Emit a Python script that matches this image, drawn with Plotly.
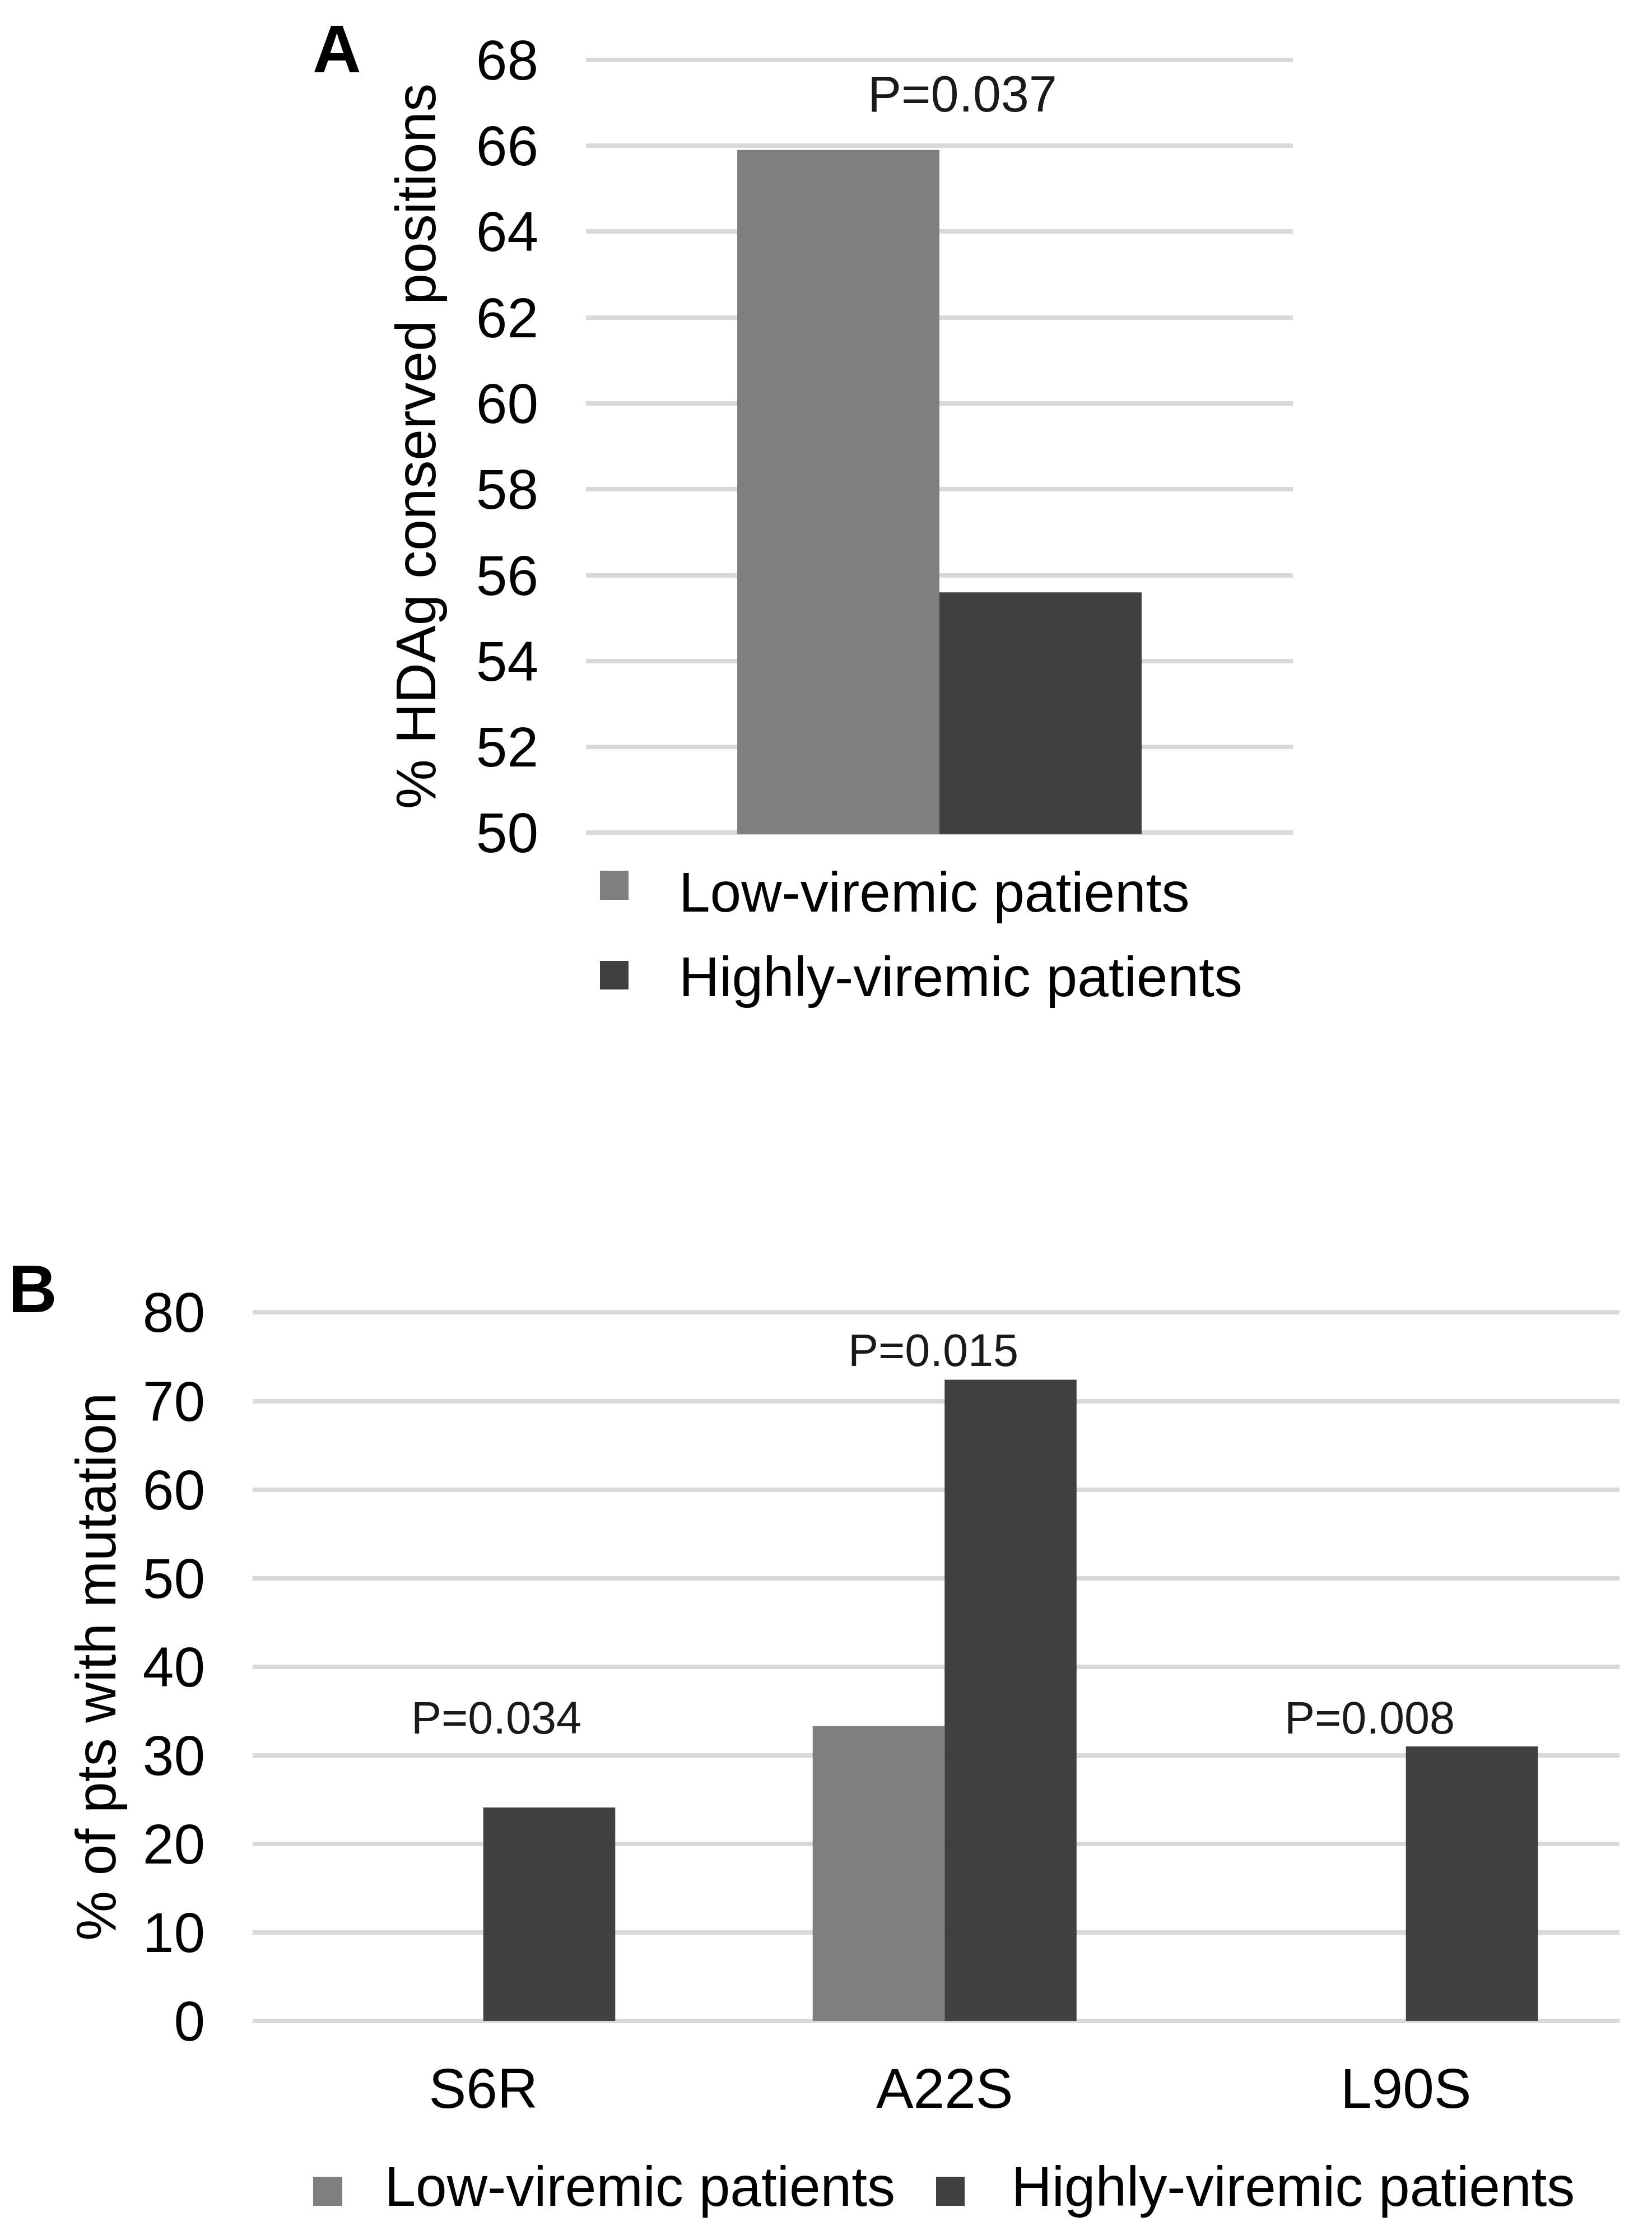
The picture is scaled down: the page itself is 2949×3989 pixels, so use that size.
import plotly.graph_objects as go

# ---------------- data ----------------
series_names = ["Low-viremic patients", "Highly-viremic patients"]
series_colors = ["#7f7f7f", "#404040"]

# Panel A: % HDAg conserved positions
a_category = ["HDAg"]
a_low = [65.9]
a_high = [55.6]
a_pvalue = ["P=0.037"]
a_yticks = [50, 52, 54, 56, 58, 60, 62, 64, 66, 68]

# Panel B: % of patients with mutation
b_mutations = ["S6R", "A22S", "L90S"]
b_low = [0, 33.3, 0]
b_high = [24.1, 72.4, 31.0]
b_pvalues = ["P=0.034", "P=0.015", "P=0.008"]
b_yticks = [0, 10, 20, 30, 40, 50, 60, 70, 80]

# ---------------- layout helpers ----------------
W, H = 2949, 3989
OFF = 8  # page body margin compensation
FONT = "Arial, 'Liberation Sans', sans-serif"


def fx(p):
    return (p - OFF) / W


def fy(p):
    return 1 - (p - OFF) / H


fig = go.Figure()

# Panel A bars
fig.add_trace(go.Bar(x=a_category, y=a_low, name=series_names[0],
                     marker=dict(color=series_colors[0], line=dict(width=0)),
                     xaxis="x", yaxis="y", legend="legend", legendgroup="a0"))
fig.add_trace(go.Bar(x=a_category, y=a_high, name=series_names[1],
                     marker=dict(color=series_colors[1], line=dict(width=0)),
                     xaxis="x", yaxis="y", legend="legend", legendgroup="a1"))

# Panel B bars
fig.add_trace(go.Bar(x=b_mutations, y=b_low, name=series_names[0],
                     marker=dict(color=series_colors[0], line=dict(width=0)),
                     xaxis="x2", yaxis="y2", legend="legend2", legendgroup="b0"))
fig.add_trace(go.Bar(x=b_mutations, y=b_high, name=series_names[1],
                     marker=dict(color=series_colors[1], line=dict(width=0)),
                     xaxis="x2", yaxis="y2", legend="legend2", legendgroup="b1"))

grid = dict(showgrid=True, gridcolor="#d9d9d9", gridwidth=7.5,
            zeroline=False, showline=False, ticks="")
tickfont = dict(family=FONT, size=100, color="#000000")
titlefont = dict(family=FONT, size=100, color="#000000")

annotations = []
# P-value labels
annotations.append(dict(x=0.0325, y=67.2, xref="x", yref="y", text=a_pvalue[0],
                        showarrow=False, font=dict(family=FONT, size=90, color="#1a1a1a"),
                        xanchor="center", yanchor="middle"))
b_label_pos = [(0.028, 34.2), (-0.025, 75.7), (-0.078, 34.2)]
for i, (txt, (dx, py)) in enumerate(zip(b_pvalues, b_label_pos)):
    annotations.append(dict(x=i + dx, y=py, xref="x2", yref="y2", text=txt,
                            showarrow=False, font=dict(family=FONT, size=81, color="#1a1a1a"),
                            xanchor="center", yanchor="middle"))
# panel letters
annotations.append(dict(x=fx(601), y=fy(87), xref="paper", yref="paper", text="<b>A</b>",
                        showarrow=False, font=dict(family=FONT, size=120, color="#000000"),
                        xanchor="center", yanchor="middle"))
annotations.append(dict(x=fx(58), y=fy(2300), xref="paper", yref="paper", text="<b>B</b>",
                        showarrow=False, font=dict(family=FONT, size=120, color="#000000"),
                        xanchor="center", yanchor="middle"))

# enlarged legend swatches (cover the small built-in legend symbols)
shapes = []
for (x0, x1, y0, y1, c) in [
    (1071, 1122, 1554, 1606, series_colors[0]),
    (1071, 1122, 1715, 1766, series_colors[1]),
    (559, 611, 3885, 3937, series_colors[0]),
    (1671, 1722, 3885, 3937, series_colors[1]),
]:
    shapes.append(dict(type="rect", xref="paper", yref="paper",
                       x0=fx(x0), x1=fx(x1), y0=fy(y1), y1=fy(y0),
                       fillcolor=c, line=dict(width=0), layer="above"))

fig.update_layout(
    width=W, height=H, autosize=False,
    margin=dict(l=0, r=0, t=0, b=0, pad=0, autoexpand=False),
    paper_bgcolor="#ffffff", plot_bgcolor="#ffffff",
    font=dict(family=FONT, color="#000000"),
    barmode="group", bargap=0.428, bargroupgap=0,
    xaxis=dict(domain=[fx(1046), fx(2308)], anchor="y", type="category",
               range=[-0.5, 0.5], showticklabels=False, showgrid=False,
               zeroline=False, showline=False, ticks=""),
    yaxis=dict(domain=[fy(1488.7), fy(104.4)], anchor="x", range=[49.97, 68.03],
               tickmode="array", tickvals=a_yticks, tickfont=tickfont,
               ticklabelstandoff=84,
               title=dict(text="% HDAg conserved positions", font=titlefont, standoff=38),
               **grid),
    xaxis2=dict(domain=[fx(451), fx(2891)], anchor="y2", type="category",
                range=[-0.5, 2.463], tickfont=tickfont, ticklabelstandoff=52,
                showgrid=False, zeroline=False, showline=False, ticks=""),
    yaxis2=dict(domain=[fy(3609.4), fy(2340.1)], anchor="x2", range=[-0.15, 80.15],
                tickmode="array", tickvals=b_yticks, tickfont=tickfont,
                ticklabelstandoff=84,
                title=dict(text="% of pts with mutation", font=titlefont, standoff=14),
                **grid),
    legend=dict(orientation="v", x=fx(981), xanchor="left",
                y=fy(1516.5), yanchor="top", itemwidth=221,
                font=dict(family=FONT, size=100, color="#000000"),
                bgcolor="rgba(0,0,0,0)", borderwidth=0,
                traceorder="grouped", tracegroupgap=18),
    legend2=dict(orientation="h", x=fx(484), xanchor="left",
                 y=fy(3898), yanchor="middle", itemwidth=192.5,
                 font=dict(family=FONT, size=100, color="#000000"),
                 bgcolor="rgba(0,0,0,0)", borderwidth=0,
                 traceorder="normal"),
    annotations=annotations,
    shapes=shapes,
    showlegend=True,
)

fig.write_html("out.html")
